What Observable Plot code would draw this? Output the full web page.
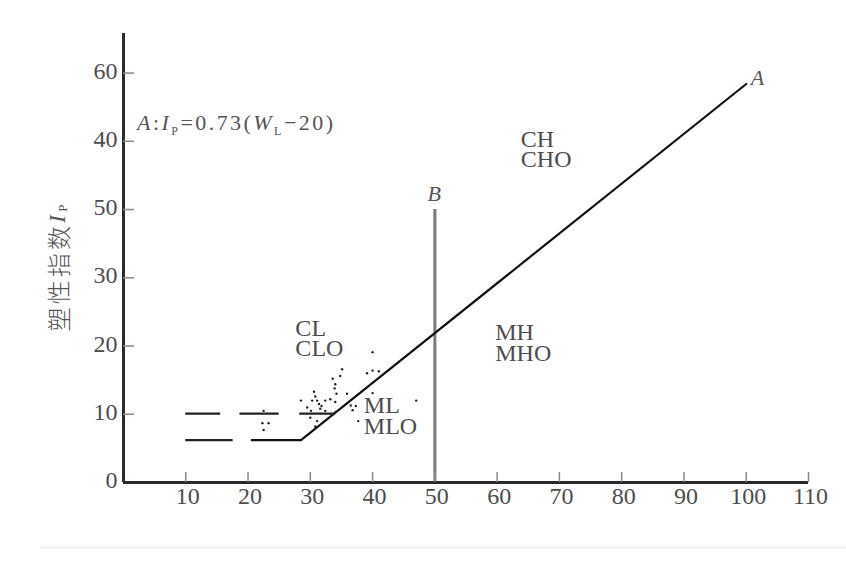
<!DOCTYPE html>
<html><head><meta charset="utf-8">
<script src="https://cdn.jsdelivr.net/npm/d3@7"></script>
<script src="https://cdn.jsdelivr.net/npm/@observablehq/plot@0.6"></script>
<style>
html,body{margin:0;padding:0;background:#fff;}
#wrap{position:relative;width:846px;height:561px;overflow:hidden;}
#band{position:absolute;left:40px;top:546px;width:806px;height:3px;background:#f3f3f3;}
</style></head>
<body><div id="wrap"><div id="band"></div></div>
<script>
// ---- data ----
const xTicks = [10, 20, 30, 40, 50, 60, 70, 80, 90, 100, 110];
const yTicks = [0, 10, 20, 30, 40, 50, 60];
const yTickLabels = ["0", "10", "20", "30", "50", "40", "60"];

// line A: horizontal part then Ip = 0.73(WL-20)
const lineA = [
  {wl: 20.6, ip: 6.2},
  {wl: 28.5, ip: 6.2},
  {wl: 100, ip: 58.4}
];
const lowerDash = [{wl1: 10, wl2: 17.6, ip: 6.2}];
const upperDash = [
  {wl1: 10, wl2: 15.6, ip: 10.1},
  {wl1: 18.7, wl2: 25, ip: 10.1},
  {wl1: 28.3, wl2: 34, ip: 10.1}
];
const lineB = [{wl: 50, ip1: 0, ip2: 40}];

const pointsWL = [40.0, 39.1, 40.0, 41.0, 35.1, 34.8, 33.6, 34.0, 33.9, 34.2,
  30.6, 30.8, 31.1, 31.4, 31.8, 28.5, 30.3, 32.4, 33.2, 34.0,
  35.9, 40.0, 29.5, 30.1, 31.6, 32.4, 33.5, 34.0, 36.5, 36.8,
  37.3, 30.0, 30.8, 31.1, 37.7, 47.0, 22.5, 22.3, 23.3, 22.5];
const pointsIP = [19.1, 16.0, 16.4, 16.3, 16.6, 15.6, 15.2, 14.4, 13.8, 13.0,
  13.3, 12.6, 12.0, 11.5, 11.2, 12.0, 12.0, 12.0, 12.2, 11.8,
  13.0, 13.1, 11.0, 10.5, 10.8, 10.5, 10.0, 10.3, 11.3, 10.6,
  11.2, 9.5, 8.2, 9.0, 9.0, 12.0, 10.5, 8.7, 8.7, 7.7];
const points = pointsWL.map((wl, i) => ({wl, ip: pointsIP[i]}));

const zoneLabels = [
  {text: "CH\nCHO", wl: 63.8, ip: 48.6},
  {text: "MH\nMHO", wl: 59.7, ip: 20.3},
  {text: "CL\nCLO", wl: 27.6, ip: 21.0},
  {text: "ML\nMLO", wl: 38.6, ip: 9.6}
];
const lineNames = [
  {text: "A", wl: 101.8, ip: 59.3},
  {text: "B", wl: 49.9, ip: 42.3}
];
const formulaAt = {wl: 2.25, ip: 51.6};

const serif = "'Liberation Serif', 'DejaVu Serif', serif";
const textColor = "#4d4d4d";

const chart = Plot.plot({
  width: 846,
  height: 561,
  marginLeft: 123,
  marginRight: 38,
  marginTop: 33,
  marginBottom: 79,
  x: {domain: [0, 110]},
  y: {domain: [0, 65.8]},
  style: {fontFamily: serif, background: "transparent", color: textColor},
  marks: [
    Plot.ruleX(lineB, {x: "wl", y1: "ip1", y2: "ip2", stroke: "#7a7a7a", strokeWidth: 3}),
    Plot.ruleY(upperDash, {x1: "wl1", x2: "wl2", y: "ip", stroke: "#222", strokeWidth: 2.2}),
    Plot.ruleY(lowerDash, {x1: "wl1", x2: "wl2", y: "ip", stroke: "#222", strokeWidth: 2.2}),
    Plot.line(lineA, {x: "wl", y: "ip", stroke: "#111", strokeWidth: 2.2}),
    Plot.dot(points, {x: "wl", y: "ip", r: 1.2, fill: "#222", stroke: null}),
    // axis lines
    Plot.ruleY([0], {stroke: "#2a2a2a", strokeWidth: 3}),
    Plot.ruleX([0], {stroke: "#2a2a2a", strokeWidth: 3}),
    // inward ticks
    Plot.ruleX(xTicks, {x: d => d, y1: 0, y2: 0, insetBottom: 10, stroke: "#8a8a8a", strokeWidth: 1.5}),
    Plot.ruleY(yTicks.filter(d => d > 0), {y: d => d, x1: 0, x2: 0, insetRight: -11, stroke: "#8a8a8a", strokeWidth: 1.5}),
    Plot.axisX({ticks: xTicks, tickSize: 0, tickPadding: 4, fontSize: 24, label: null, dx: 2, color: textColor}),
    Plot.axisY({ticks: yTicks, tickSize: 0, tickPadding: 6, fontSize: 24, label: null, dy: -2,
      tickFormat: d => yTickLabels[yTicks.indexOf(d)], color: textColor}),
    Plot.text(zoneLabels, {x: "wl", y: "ip", text: "text", textAnchor: "start", fontSize: 24,
      lineHeight: 0.84, fill: textColor, fontFamily: serif}),
    Plot.text(lineNames, {x: "wl", y: "ip", text: "text", fontSize: 22, fontStyle: "italic",
      fill: "#555", fontFamily: serif})
  ]
});
document.getElementById("wrap").appendChild(chart);

const sx = chart.scale("x"), sy = chart.scale("y");
const svg = d3.select(chart);

// formula annotation
const f = svg.append("text")
  .attr("x", sx.apply(formulaAt.wl))
  .attr("y", sy.apply(formulaAt.ip))
  .attr("text-anchor", "start")
  .attr("font-family", serif)
  .attr("font-size", 22)
  .attr("fill", "#555")
  .attr("textLength", 196)
  .attr("lengthAdjust", "spacing");
f.append("tspan").attr("font-style", "italic").text("A");
f.append("tspan").text(":");
f.append("tspan").attr("font-style", "italic").text("I");
f.append("tspan").attr("font-size", 12).attr("dy", 5).text("P");
f.append("tspan").attr("dy", -5).text("=0.73(");
f.append("tspan").attr("font-style", "italic").text("W");
f.append("tspan").attr("font-size", 12).attr("dy", 5).text("L");
f.append("tspan").attr("dy", -5).text("−20)");

// y axis title
const yl = svg.append("text")
  .attr("transform", "translate(57,268) rotate(-90)")
  .attr("text-anchor", "middle")
  .attr("dominant-baseline", "central")
  .attr("font-size", 24)
  .attr("fill", "#555")
  .attr("textLength", 127)
  .attr("lengthAdjust", "spacing");
yl.append("tspan").attr("font-family", "'Noto Sans CJK SC', sans-serif").attr("font-weight", 300).text("塑性指数");
yl.append("tspan").attr("font-family", serif).attr("font-style", "italic").text("I");
yl.append("tspan").attr("font-family", serif).attr("font-size", 13).attr("dy", 5).text("P");
</script>
</body></html>
